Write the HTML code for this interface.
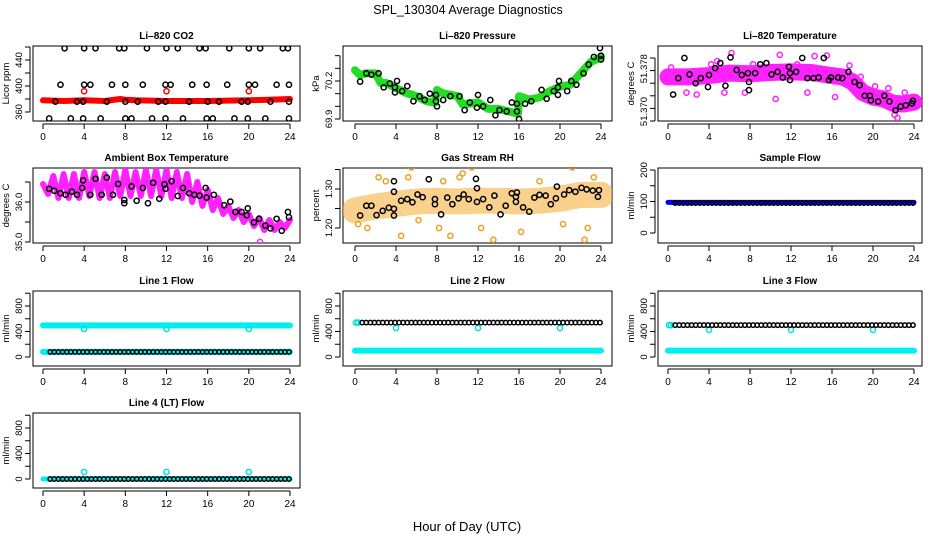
<!DOCTYPE html>
<html><head><meta charset="utf-8"><style>
html,body{margin:0;padding:0;background:#fff}
svg{display:block;font-family:"Liberation Sans",Arial,sans-serif}
</style></head><body>
<svg id="chart" width="936" height="540" viewBox="0 0 936 540" xmlns="http://www.w3.org/2000/svg">
<text x="468" y="14" text-anchor="middle" font-size="12.5">SPL_130304  Average Diagnostics</text>
<text x="467" y="531" text-anchor="middle" font-size="13">Hour of Day (UTC)</text>
</svg>
<script>
// ---------- data ----------
const xTicks = [0,4,8,12,16,20,24];
// CO2
const co2BandHours = [0,2,4,6,7.5,8,9,12,16,20,22,24];
const co2BandVals = [378,377,378,377,380,379,378,377,377,378,379,380];
const co2TopHours = [2.1,4,5.1,7.4,7.9,10.1,12,13.1,15.2,15.8,18.1,20,21.1,23.3,23.8];
const co2TopVal = 458;
const co2MidHours = [1.7,4,4.6,6.7,8,9.7,11.9,12.4,14.5,15.9,17.9,20,20.6,22.7,23.9];
const co2MidVal = 402;
const co2LowHours = [1.2,3.3,3.9,6.2,8,9.2,11.2,11.9,14.2,16,17.1,19.3,19.9,22.1,23.9];
const co2LowVal = 376;
const co2BotHours = [0.6,2.7,3.9,5.6,8,8.6,10.6,11.9,13.6,15.9,16.5,18.6,19.9,21.6,23.9];
const co2BotVal = 350;
const co2RedHours = [4,12,20];
const co2RedVals = [392,392,392];
// Pressure
const presBandHours = [0,0.5,1,2,2.5,3,4,5,6,7,7.8,8,8.5,10,10.5,12,13,14,15.5,15.9,16,17,18,19,20,21,22,23,24];
const presBandVals = [70.285,70.246,70.26,70.26,70.185,70.185,70.144,70.105,70.08,70.04,70.03,70.13,70.105,70.08,70.015,70.03,69.98,69.98,69.95,69.94,70.08,70.054,70.07,70.12,70.156,70.17,70.26,70.35,70.387];
const presPtHours = [0.5,1.1,1.6,2.3,2.8,3.4,3.9,4.1,3.9,4.6,5.1,5.7,6.3,6.8,7.3,7.9,7.9,8,8.6,9.3,10.2,10.7,11.2,11.9,12,12.5,13.2,13.7,14.1,14.8,15.3,15.8,15.8,16,16.6,17.2,18.2,18.7,19.4,19.8,19.9,19.8,20.7,21.1,21.6,22.3,22.8,23.3,23.9,24,24];
const presPtVals = [70.195,70.26,70.25,70.26,70.15,70.18,70.15,70.2,70.11,70.12,70.16,70.04,70.08,70.05,70.1,70.09,70.04,70.0,70.05,70.08,70.08,69.97,70.03,69.99,70.09,70.0,70.05,69.93,69.97,69.96,70.03,70.02,69.96,69.9,70.02,70.04,70.13,70.06,70.12,70.15,70.2,70.09,70.12,70.2,70.17,70.26,70.33,70.39,70.46,70.4,70.37];
// Li-820 temperature
const tempBandHours = [0,2,4,6,8,10,12,14,16,17,18,19,20,21,22,23,24];
const tempBandVals = [51.3770,51.3770,51.3772,51.3776,51.3775,51.3777,51.3778,51.3777,51.3772,51.3770,51.3762,51.3745,51.3738,51.3735,51.3728,51.3727,51.3730];
const tempOutHours = [0.3,1.8,2.8,4.2,4.8,5.5,6.2,7.5,8.3,10.5,10.9,12.6,13.6,14.3,15.5,16.3,17.7,18.8,20.2,21.5,22.1,22.4,23.1];
const tempOutVals = [51.3785,51.3745,51.3742,51.3790,51.3795,51.3745,51.3808,51.3745,51.3790,51.3735,51.3805,51.3790,51.3745,51.3803,51.3804,51.3738,51.3788,51.3770,51.3755,51.3752,51.3710,51.3705,51.3745];
const tempPtHours = [0.5,1.0,1.6,2.1,2.7,3.2,3.9,4.0,4.6,5.1,5.6,6.1,6.7,7.2,7.8,7.9,7.9,8.5,9.0,9.6,10.1,10.7,11.2,11.8,11.9,11.9,12.5,13.1,13.6,14.2,14.7,15.2,15.7,15.9,16.6,17.0,17.6,18.2,18.7,19.2,19.7,19.8,20.5,21.1,21.6,22.2,22.7,23.2,23.8,23.9];
const tempPtVals = [51.3742,51.3768,51.3800,51.3774,51.3760,51.3768,51.3754,51.3773,51.3784,51.3792,51.3756,51.3801,51.3781,51.3773,51.3776,51.3762,51.3749,51.3776,51.3790,51.3792,51.3774,51.3778,51.3769,51.3786,51.3776,51.3765,51.3778,51.3800,51.3768,51.3768,51.3769,51.3800,51.3765,51.3769,51.3769,51.3768,51.3778,51.3762,51.3757,51.3740,51.3740,51.3733,51.3731,51.3740,51.3731,51.3717,51.3723,51.3725,51.3728,51.3732];
// Ambient box temperature
const ambZigHours = [0,0.5,1,1.5,2,2.5,3,3.5,4,4.5,5,5.5,6,6.5,7,7.5,8,8.5,9,9.5,10,10.5,11,11.5,12,12.5,13,13.5,14,14.5,15,15.5,16,16.5,17,17.5,18,18.5,19,19.5,20,20.5,21,21.5,22,22.5,23,23.5,24];
const ambZigVals = [36.45,36.2,36.65,36.1,36.7,36.1,36.7,36.1,36.75,36.15,36.75,36.1,36.7,36.1,36.75,36.15,36.8,36.15,36.75,36.15,36.8,36.15,36.8,36.15,36.8,36.1,36.75,36.1,36.7,36.0,36.5,35.9,36.3,35.8,36.1,35.7,35.9,35.6,35.8,35.5,35.7,35.4,35.6,35.3,35.55,35.3,35.5,35.35,35.55];
const ambPtHours = [0.6,1.1,1.7,2.2,2.8,3.3,3.8,3.9,4.6,5.1,5.7,6.2,6.8,7.3,7.9,7.9,8.6,9.1,9.7,10.2,10.7,11.3,11.8,11.9,12.5,13.1,13.6,14.2,14.7,15.2,15.8,15.9,16.6,17.6,18.2,18.7,19.3,19.8,19.9,20.5,21.0,21.6,22.1,22.7,23.2,23.8,23.9];
const ambPtVals = [36.33,36.28,36.22,36.18,36.26,36.18,36.35,36.54,36.18,36.58,36.18,36.61,36.18,36.45,36.05,35.97,36.39,36.03,36.35,35.97,36.48,36.08,36.44,36.33,36.52,36.15,36.35,36.22,36.18,36.16,36.35,36.11,36.18,35.92,36.01,35.75,35.75,35.67,35.84,35.49,35.58,35.41,35.34,35.58,35.28,35.75,35.62];
const ambOutHours = [21.1];
const ambOutVals = [35.0];
// Gas stream RH
const rhBandHours = [0,2,4,6,8,10,12,14,16,18,20,22,24];
const rhBandVals = [1.245,1.255,1.262,1.268,1.27,1.268,1.27,1.27,1.268,1.27,1.275,1.285,1.285];
const rhOutHours = [0.3,1.2,2.3,3,4.5,5.2,6.2,8.2,8.6,9.3,10.2,12.3,13.5,10.5,14.5,16.2,18,20.3,22.4,22.7,23.3,21.2,11.4,5.5];
const rhOutVals = [1.21,1.2,1.33,1.32,1.18,1.33,1.22,1.2,1.32,1.18,1.33,1.2,1.17,1.34,1.15,1.19,1.32,1.21,1.17,1.2,1.33,1.355,1.355,1.355];
const rhPtHours = [0.5,1.1,1.6,2.1,2.7,3.3,3.8,3.8,3.8,3.8,4.5,5.1,5.6,6.1,6.6,7.2,7.8,7.8,8.4,9.0,9.5,10.1,10.6,11.1,11.8,11.9,11.9,12.5,13.1,13.6,14.2,14.7,15.3,15.7,15.7,15.8,16.4,17.0,17.5,18.0,18.6,19.1,19.6,19.7,20.4,20.9,21.5,22.1,22.6,23.2,23.7,23.8];
const rhPtVals = [1.232,1.257,1.257,1.233,1.244,1.252,1.249,1.232,1.293,1.32,1.27,1.274,1.266,1.286,1.279,1.325,1.274,1.261,1.235,1.278,1.261,1.276,1.286,1.274,1.326,1.302,1.267,1.274,1.253,1.283,1.235,1.257,1.289,1.28,1.267,1.291,1.253,1.242,1.278,1.285,1.283,1.261,1.276,1.306,1.286,1.297,1.293,1.303,1.299,1.296,1.28,1.297];
// Flows
const flowHours = [0.7,1.1,1.5,1.9,2.3,2.7,3.1,3.5,3.9,4.3,4.7,5.1,5.5,5.9,6.3,6.7,7.1,7.5,7.9,8.3,8.7,9.1,9.5,9.9,10.3,10.7,11.1,11.5,11.9,12.3,12.7,13.1,13.5,13.9,14.3,14.7,15.1,15.5,15.9,16.3,16.7,17.1,17.5,17.9,18.3,18.7,19.1,19.5,19.9,20.3,20.7,21.1,21.5,21.9,22.3,22.7,23.1,23.5,23.9];
const dipHours = [4,12,20];
const sampleBlue = 97, sampleBlack = 95;
const line1Cyan = 495, line1Low = 80, line1Dips = [440,440,440];
const line2Black = 540, line2Cyan = 100, line2Start = 540, line2Dips = [455,455,455];
const line3Black = 500, line3Cyan = 100, line3Start = 500, line3Dips = [425,425,425];
const line4Black = 0, line4Cyan = 0, line4Dips = [110,110,110];

// ---------- layout ----------
const svg = document.getElementById('chart');
const NS = 'http://www.w3.org/2000/svg';
const cols = [{L:33,R:300,x0:43,x24:290},{L:343,R:612,x0:355,x24:601},{L:658,R:922,x0:668,x24:914}];
const rowTops = [46,168,291,413];
const H = 75;

function el(tag, attrs, parent){
  const e = document.createElementNS(NS, tag);
  for (const k in attrs) e.setAttribute(k, attrs[k]);
  (parent||svg).appendChild(e);
  return e;
}

function makePanel(cfg){
  const c = cols[cfg.col], top = rowTops[cfg.row];
  const g = el('g', {});
  
  
  const xs = h => c.x0 + (c.x24 - c.x0) * h / 24;
  const ys = v => top + cfg.py1 + (v - cfg.v1) * (cfg.py2 - cfg.py1) / (cfg.v2 - cfg.v1);
  const box = el('rect', {x:c.L, y:top, width:c.R-c.L, height:H, fill:'none', stroke:'#000', 'stroke-width':1}, g);
  
  
  const t = el('text', {x:(c.L+c.R)/2, y:top-7, 'text-anchor':'middle', 'font-size':10, 'font-weight':'bold'}, g);
  t.textContent = cfg.title;
  
  
  // x axis
  el('line', {x1:xs(0), x2:xs(24), y1:top+H+3, y2:top+H+3, stroke:'#000'}, g);
  xTicks.forEach(h => {
    el('line', {x1:xs(h), x2:xs(h), y1:top+H+3, y2:top+H+8, stroke:'#000'}, g);
    const tl = el('text', {x:xs(h), y:top+H+19, 'text-anchor':'middle', 'font-size':10}, g);
    tl.textContent = h;
    
    
  });
  // y axis
  const ty = cfg.yTicks.map(ys);
  el('line', {x1:c.L-3, x2:c.L-3, y1:Math.min(...ty), y2:Math.max(...ty), stroke:'#000'}, g);
  ty.forEach(y => el('line', {x1:c.L-8, x2:c.L-3, y1:y, y2:y, stroke:'#000'}, g));
  cfg.yLabels.forEach((lab, i) => {
    const y = ys(cfg.yLabelVals[i]);
    const tl = el('text', {x:0, y:0, 'text-anchor':'middle', 'font-size':9.5, transform:`translate(${c.L-11},${y}) rotate(-90)`}, g);
    tl.textContent = lab;
    
    
  });
  const yl = el('text', {x:0, y:0, 'text-anchor':'middle', 'font-size':9.5, transform:`translate(${c.L-24},${top+H/2}) rotate(-90)`}, g);
  yl.textContent = cfg.ylab;
  
  
  // clip
  const cid = 'clip-' + cfg.name;
  const cp = el('clipPath', {id:cid}, g);
  el('rect', {x:c.L, y:top, width:c.R-c.L, height:H}, cp);
  const pg = el('g', {'clip-path':`url(#${cid})`}, g);
  return {g:pg, xs, ys};
}

function band(p, hours, vals, color, w, name, op){
  const pts = hours.map((h,i) => p.xs(h).toFixed(1) + ',' + p.ys(vals[i]).toFixed(1)).join(' ');
  const e = el('polyline', {points:pts, fill:'none', stroke:color, 'stroke-width':w, 'stroke-linejoin':'round', 'stroke-linecap':'round', opacity:op||1}, p.g);
  
  
}
function pts(p, hours, vals, color, name, r){
  hours.forEach((h,i) => {
    const v = Array.isArray(vals) ? vals[i] : vals;
    const e = el('circle', {cx:p.xs(h), cy:p.ys(v), r:r||2.6, fill:'none', stroke:color, 'stroke-width':1.5}, p.g);
    
    
  });
}
function flat(p, level, color, w, name){ band(p, [0,24], [level,level], color, w, name); }

// CO2
let p = makePanel({name:'co2', title:'Li\u2013820 CO2', col:0, row:0, ylab:'Licor ppm', v1:360, py1:66, v2:440, py2:14, yTicks:[360,380,400,420,440,460], yLabels:['360','400','440'], yLabelVals:[360,400,440]});
band(p, co2BandHours, co2BandVals, '#f00', 6, 'co2-red-band');
pts(p, co2TopHours, co2TopVal, '#000', 'co2-point');
pts(p, co2MidHours, co2MidVal, '#000', 'co2-point');
pts(p, co2LowHours, co2LowVal, '#000', 'co2-point');
pts(p, co2BotHours, co2BotVal, '#000', 'co2-point');
pts(p, co2RedHours, co2RedVals, '#f00', 'co2-red-point');

// Pressure
p = makePanel({name:'pressure', title:'Li\u2013820 Pressure', col:1, row:0, ylab:'kPa', v1:69.9, py1:73, v2:70.2, py2:35, yTicks:[69.9,70.0,70.1,70.2,70.3,70.4], yLabels:['69.9','70.2'], yLabelVals:[69.9,70.2]});
band(p, presBandHours, presBandVals, '#22dd22', 8, 'pressure-green-band');
pts(p, presPtHours, presPtVals, '#000', 'pressure-point');

// Li-820 temperature
p = makePanel({name:'li820-temp', title:'Li\u2013820 Temperature', col:2, row:0, ylab:'degrees C', v1:51.370, py1:75, v2:51.380, py2:12, yTicks:[51.370,51.372,51.374,51.376,51.378,51.380], yLabels:['51.370','51.378'], yLabelVals:[51.3715,51.3783]});
band(p, tempBandHours, tempBandVals, '#ff22ff', 17, 'temp-magenta-band');
pts(p, tempOutHours, tempOutVals, '#ff22ff', 'temp-magenta-point');
pts(p, tempPtHours, tempPtVals, '#000', 'temp-point');

// Ambient
p = makePanel({name:'ambient-temp', title:'Ambient Box Temperature', col:0, row:1, ylab:'degrees C', v1:36.0, py1:34, v2:35.0, py2:74, yTicks:[35.0,35.5,36.0,36.5], yLabels:['35.0','36.0'], yLabelVals:[35.0,36.0]});
band(p, ambZigHours, ambZigVals, '#ff22ff', 6, 'ambient-magenta-band');
pts(p, ambOutHours, ambOutVals, '#ff22ff', 'ambient-magenta-point');
pts(p, ambPtHours, ambPtVals, '#000', 'ambient-point');

// RH
p = makePanel({name:'rh', title:'Gas Stream RH', col:1, row:1, ylab:'percent', v1:1.30, py1:21, v2:1.20, py2:60, yTicks:[1.20,1.25,1.30,1.35], yLabels:['1.20','1.30'], yLabelVals:[1.20,1.30]});
band(p, rhBandHours, rhBandVals, '#f5b040', 26, 'rh-orange-band', 0.6);
pts(p, rhOutHours, rhOutVals, '#f0a020', 'rh-orange-point');
pts(p, rhPtHours, rhPtVals, '#000', 'rh-point');

// Sample flow
p = makePanel({name:'sample-flow', title:'Sample Flow', col:2, row:1, ylab:'ml/min', v1:0, py1:65, v2:200, py2:2, yTicks:[0,50,100,150,200], yLabels:['0','100','200'], yLabelVals:[0,100,200]});
flat(p, sampleBlue, '#0000ee', 5, 'sample-blue-band');
pts(p, flowHours, sampleBlack, '#000', 'sample-point', 2.2);

const flowCfg = {ylab:'ml/min', v1:0, py1:66, v2:800, py2:15, yTicks:[0,200,400,600,800,1000], yLabels:['0','400','800'], yLabelVals:[0,400,800]};
// Line 1
p = makePanel(Object.assign({name:'line1-flow', title:'Line 1 Flow', col:0, row:2}, flowCfg));
flat(p, line1Cyan, '#00f0f0', 6, 'line1-cyan-band');
flat(p, line1Low, '#00f0f0', 6, 'line1-cyan-low-band');
pts(p, dipHours, line1Dips, '#00e0e0', 'line1-dip-point');
pts(p, flowHours, line1Low, '#000', 'line1-point', 2.2);
// Line 2
p = makePanel(Object.assign({name:'line2-flow', title:'Line 2 Flow', col:1, row:2}, flowCfg));
flat(p, line2Cyan, '#00f0f0', 6, 'line2-cyan-band');
pts(p, [0.1,0.3], line2Start, '#00e0e0', 'line2-cyan-point');
pts(p, dipHours, line2Dips, '#00e0e0', 'line2-dip-point');
pts(p, flowHours, line2Black, '#000', 'line2-point', 2.2);
// Line 3
p = makePanel(Object.assign({name:'line3-flow', title:'Line 3 Flow', col:2, row:2}, flowCfg));
flat(p, line3Cyan, '#00f0f0', 6, 'line3-cyan-band');
pts(p, [0.1,0.3], line3Start, '#00e0e0', 'line3-cyan-point');
pts(p, dipHours, line3Dips, '#00e0e0', 'line3-dip-point');
pts(p, flowHours, line3Black, '#000', 'line3-point', 2.2);
// Line 4
p = makePanel(Object.assign({name:'line4-flow', title:'Line 4 (LT) Flow', col:0, row:3}, flowCfg));
flat(p, line4Cyan, '#00f0f0', 5, 'line4-cyan-band');
pts(p, dipHours, line4Dips, '#00e0e0', 'line4-dip-point');
pts(p, flowHours, line4Black, '#000', 'line4-point', 2.2);
</script>
</body></html>
